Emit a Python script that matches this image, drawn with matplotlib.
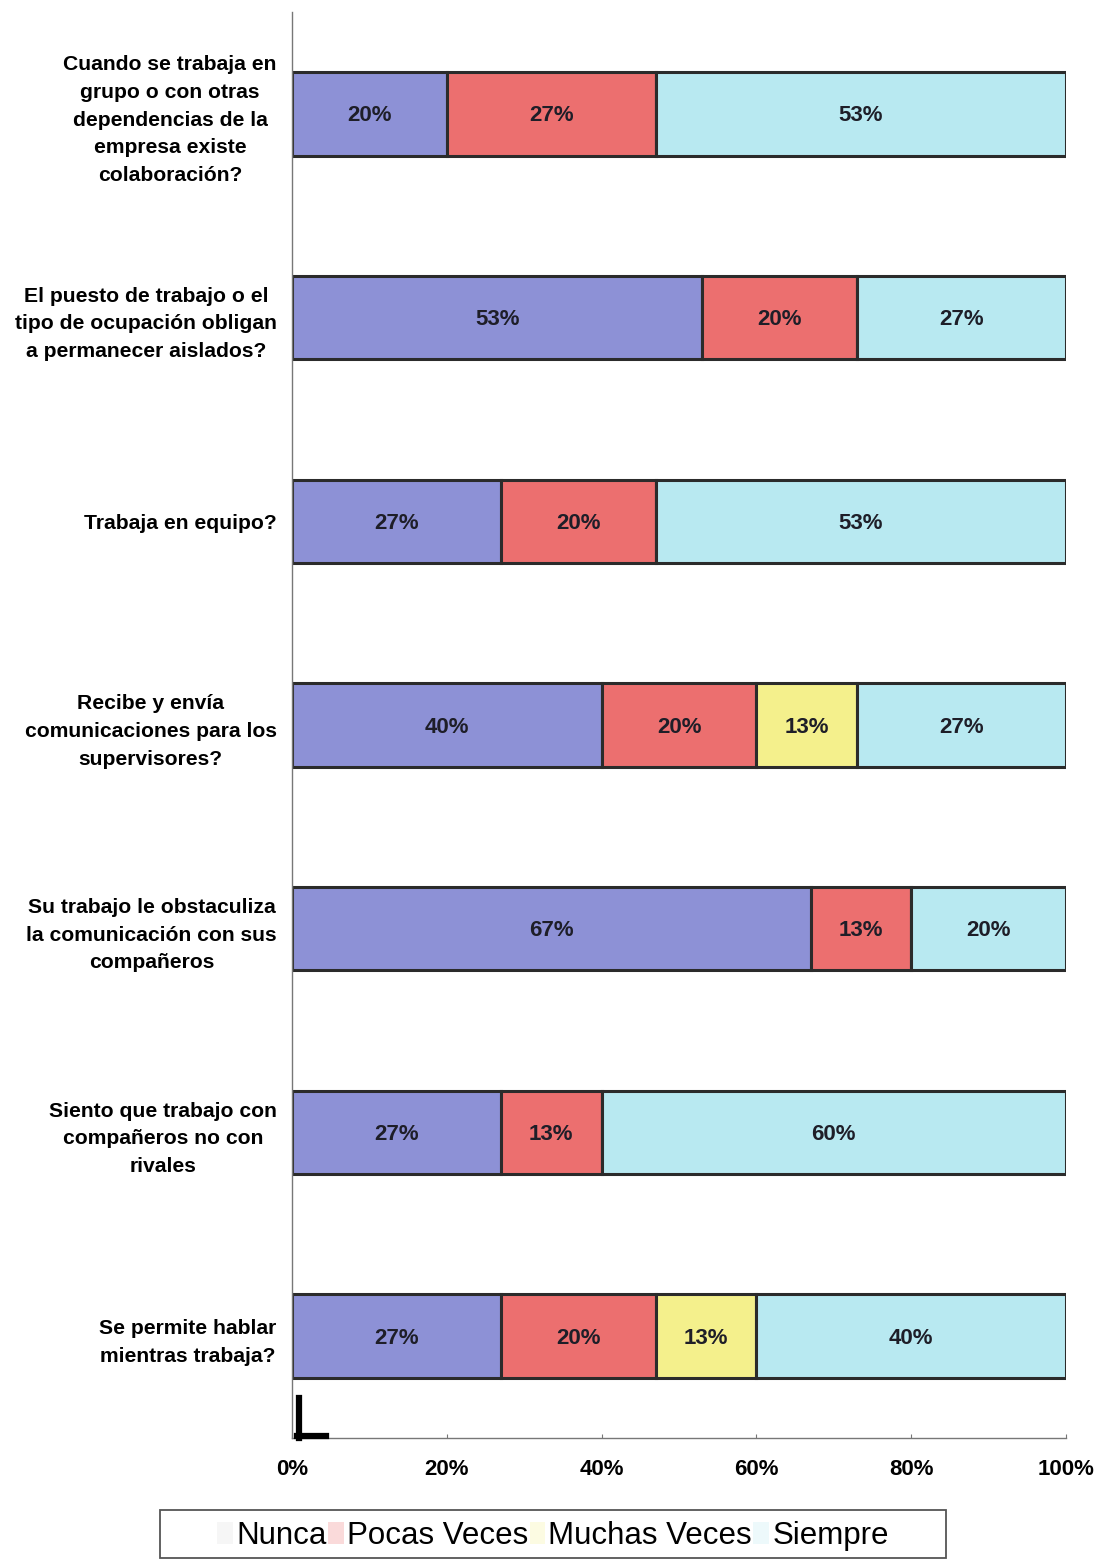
import matplotlib
matplotlib.use("Agg")
import numpy as np
from matplotlib import pyplot as plt
from matplotlib.patches import Patch, Rectangle
from matplotlib.lines import Line2D

plt.rcParams["font.family"] = ["Liberation Sans", "DejaVu Sans"]

questions = [
    "Cuando se trabaja en\ngrupo o con otras\ndependencias de la\nempresa existe\ncolaboración?",
    "El puesto de trabajo o el\ntipo de ocupación obligan\na permanecer aislados?",
    "Trabaja en equipo?",
    "Recibe y envía\ncomunicaciones para los\nsupervisores?",
    "Su trabajo le obstaculiza\nla comunicación con sus\ncompañeros",
    "Siento que trabajo con\ncompañeros no con\nrivales",
    "Se permite hablar\nmientras trabaja?",
]
series = ["Nunca", "Pocas Veces", "Muchas Veces", "Siempre"]
nunca = [20, 53, 27, 40, 67, 27, 27]
pocas_veces = [27, 20, 20, 20, 13, 13, 20]
muchas_veces = [0, 0, 0, 13, 0, 0, 13]
siempre = [53, 27, 53, 27, 20, 60, 40]
x_ticks = [0, 20, 40, 60, 80, 100]

colors = ["#8d91d6", "#ec6f6f", "#f4f08c", "#b8e9f1"]

fig = plt.figure(figsize=(10.99, 15.64), dpi=100)
ax = fig.add_axes([292 / 1099, 1 - 1438 / 1564, 774 / 1099, 1426 / 1564])

y = np.arange(len(questions))
left = np.zeros(len(questions))
for name, vals, col in zip(series, [nunca, pocas_veces, muchas_veces, siempre], colors):
    vals = np.array(vals, dtype=float)
    ax.barh(y, vals, left=left, height=0.41, color=col, edgecolor="#2b2b2b",
            linewidth=2.2, label=name)
    for yi, v, l in zip(y, vals, left):
        if v > 0:
            ax.text(l + v / 2, yi + 0.01, f"{int(v)}%", ha="center", va="center",
                    fontsize=16, fontweight="bold", color="#1e1e28")
    left += vals

ax.set_ylim(len(questions) - 0.5, -0.5)
ax.set_xlim(0, 100)
ax.set_yticks(y)
ax.set_yticklabels(questions, fontsize=15.2, fontweight="bold",
                   multialignment="center", linespacing=1.58)
ax.set_xticks(x_ticks)
ax.set_xticklabels([f"{t}%" for t in x_ticks], fontsize=16, fontweight="bold")
ax.tick_params(axis="y", length=0, pad=11)
ax.tick_params(axis="x", direction="in", length=3, color="#777777", pad=15)

for s in ["top", "right"]:
    ax.spines[s].set_visible(False)
ax.spines["left"].set_color("#777777")
ax.spines["bottom"].set_color("#777777")
ax.spines["left"].set_linewidth(1.0)
ax.spines["bottom"].set_linewidth(1.0)

handles = [Patch(facecolor=c, edgecolor="none", alpha=0.25) for c in ["#dddddd"] + colors[1:]]
leg = fig.legend(handles, series, loc="center", bbox_to_anchor=(553 / 1099, 1 - 1536 / 1564),
                 ncol=4, fontsize=22.5, frameon=False,
                 handlelength=0.5, handletextpad=0.1, columnspacing=0.05)
fig.add_artist(Rectangle((160 / 1099, 1 - 1558 / 1564), 786 / 1099, 48 / 1564,
                         transform=fig.transFigure, facecolor="none",
                         edgecolor="#555555", linewidth=1.3))

# scanning marks
fig.add_artist(Line2D([299 / 1099, 299 / 1099], [1 - 1398 / 1564, 1 - 1438 / 1564], color="black", lw=4.5))
fig.add_artist(Line2D([297 / 1099, 326 / 1099], [1 - 1436 / 1564, 1 - 1436 / 1564], color="black", lw=4.5))

fig.savefig("out.png", dpi=100)
